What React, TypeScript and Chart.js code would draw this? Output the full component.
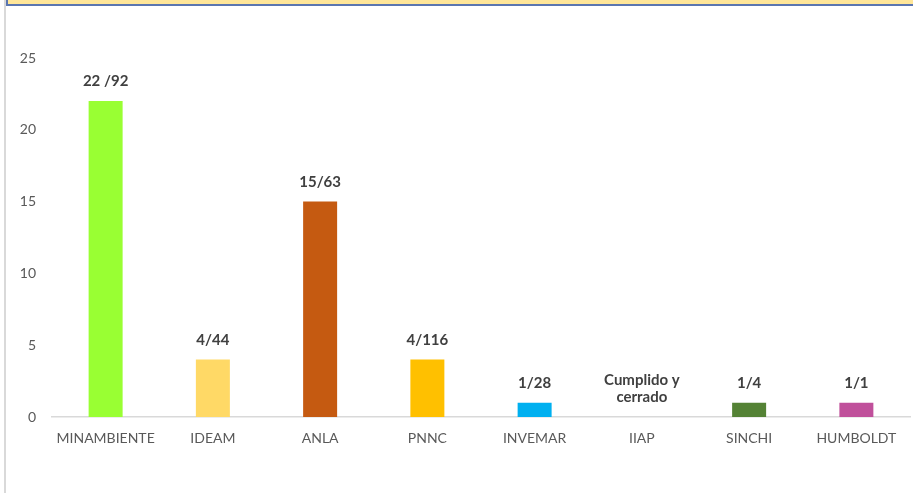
import React, { useEffect, useRef } from "react";
import { Chart, registerables } from "chart.js";

Chart.register(...registerables);

const categories = ["MINAMBIENTE", "IDEAM", "ANLA", "PNNC", "INVEMAR", "IIAP", "SINCHI", "HUMBOLDT"];
const values = [22, 4, 15, 4, 1, 0, 1, 1];
const barLabels = [["22 /92"], ["4/44"], ["15/63"], ["4/116"], ["1/28"], ["Cumplido y", "cerrado"], ["1/4"], ["1/1"]];
const barColors = ["#99FF33", "#FFD966", "#C55A11", "#FFC000", "#00B0F0", "#A5A5A5", "#548235", "#C0509B"];
const yTicks = { min: 0, max: 25, step: 5 };

const labelPlugin = {
  id: "barLabels",
  afterDatasetsDraw(chart: any) {
    const ctx = chart.ctx;
    const meta = chart.getDatasetMeta(0);
    ctx.save();
    ctx.font = "bold 15px Lato";
    ctx.fillStyle = "#404040";
    ctx.textAlign = "center";
    ctx.textBaseline = "middle";
    meta.data.forEach((bar: any, i: number) => {
      const lines = barLabels[i];
      const n = lines.length;
      lines.forEach((line: string, j: number) => {
        const y = bar.y - 19.5 - (n - 1 - j) * 17;
        ctx.fillText(line, bar.x, y);
      });
    });
    ctx.restore();
  },
};

export default function App() {
  const ref = useRef<HTMLCanvasElement>(null);
  useEffect(() => {
    document.body.style.margin = "0";
    const chart = new Chart(ref.current!, {
      type: "bar",
      data: {
        labels: categories,
        datasets: [
          {
            data: values,
            backgroundColor: barColors,
            categoryPercentage: 1,
            barPercentage: 0.317,
          },
        ],
      },
      options: {
        animation: false,
        responsive: false,
        layout: { padding: { top: 58, right: 3, left: 0, bottom: 0 } },
        plugins: { legend: { display: false }, tooltip: { enabled: false } },
        scales: {
          x: {
            grid: { display: false, drawTicks: false },
            border: { display: true, color: "#D9D9D9", width: 1.5 },
            ticks: { color: "#595959", font: { family: "Lato", size: 14 }, padding: 13, maxRotation: 0 },
            afterFit: (s: any) => { s.height = 76; },
          },
          y: {
            min: yTicks.min,
            max: yTicks.max,
            ticks: { stepSize: yTicks.step, color: "#595959", font: { family: "Lato", size: 14 }, padding: 16 },
            grid: { display: false, drawTicks: false },
            border: { display: false },
            afterFit: (s: any) => { s.width = 52; },
          },
        },
      },
      plugins: [labelPlugin],
    });
    return () => chart.destroy();
  }, []);
  return (
    <div style={{ position: "fixed", left: 0, top: 0, width: 913, height: 493, background: "#fff", overflow: "hidden" }}>
      <div style={{ position: "absolute", left: 4, top: 0, width: 2, height: 493, background: "#D9D9D9" }} />
      <div
        style={{
          position: "absolute",
          left: 6,
          top: -2,
          width: 920,
          height: 6,
          background: "#FFE699",
          borderLeft: "2px solid #5B76B0",
          borderBottom: "2px solid #5B76B0",
        }}
      />
      <canvas ref={ref} width={913} height={493} style={{ position: "absolute", left: 0, top: 0 }} />
    </div>
  );
}
